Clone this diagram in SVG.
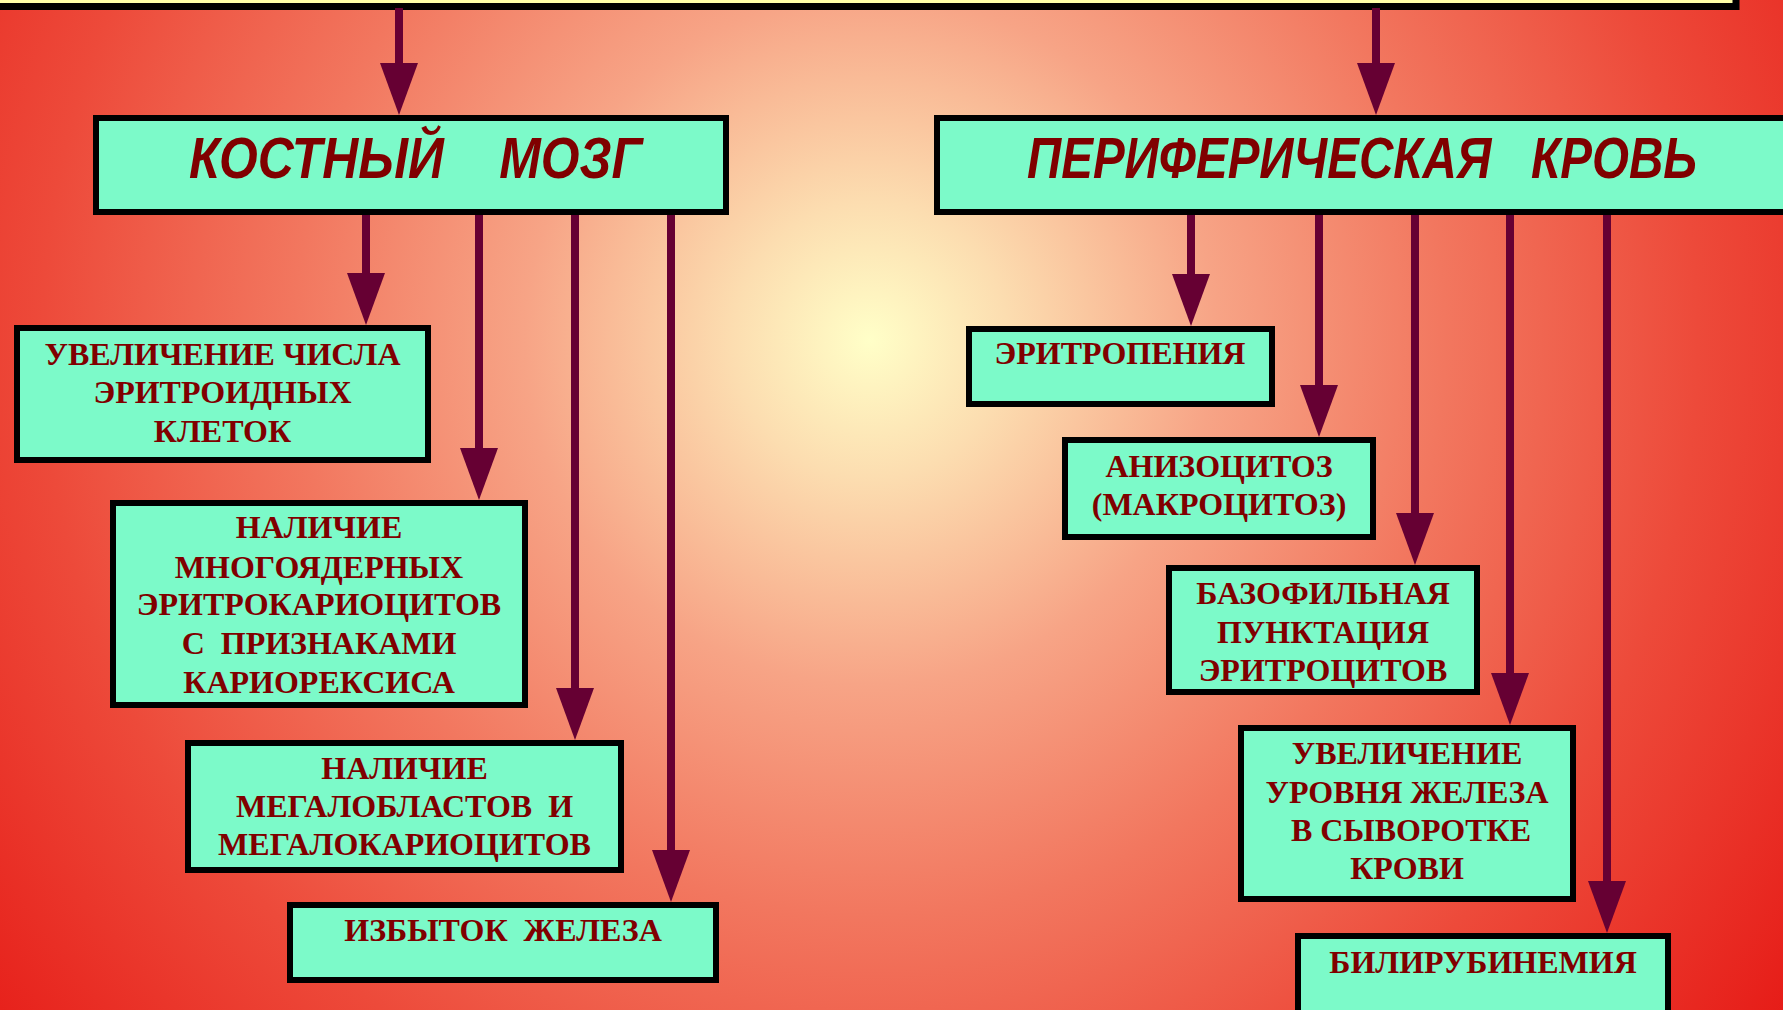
<svg xmlns="http://www.w3.org/2000/svg" width="1783" height="1010" viewBox="0 0 1783 1010">
<defs>
<radialGradient id="bg" gradientUnits="userSpaceOnUse" cx="870" cy="340" r="1150">
<stop offset="0" stop-color="#FFFFC8"/>
<stop offset="0.12" stop-color="#FCDDB0"/>
<stop offset="0.3" stop-color="#F7A486"/>
<stop offset="0.5" stop-color="#F2775F"/>
<stop offset="0.72" stop-color="#ED4A3A"/>
<stop offset="1" stop-color="#E61A16"/>
</radialGradient>
<marker id="ah" markerUnits="userSpaceOnUse" markerWidth="54" markerHeight="38" refX="2" refY="19" orient="auto" viewBox="0 0 54 38">
<path d="M0,0 L52,19 L0,38 z" fill="#660033"/>
</marker>
<style>
.box{fill:#7CFAC9;stroke:#000;stroke-width:6}
.t{font-family:"Liberation Serif","Times New Roman",serif;font-weight:bold;font-size:32px;fill:#800000;text-anchor:middle;white-space:pre}
.h{font-family:"Liberation Sans",Arial,sans-serif;font-weight:bold;font-style:italic;font-size:57px;fill:#800000;white-space:pre}
.c{stroke:#660033;stroke-width:8;fill:none;marker-end:url(#ah)}
</style>
</defs>
<rect x="0" y="0" width="1783" height="1010" fill="url(#bg)"/>
<g id="topbar">
<rect x="-10" y="-50" width="1746" height="56.5" fill="#FFFFA8" stroke="#000" stroke-width="7"/>
</g>
<g id="connectors">
<line class="c" x1="399" y1="8" x2="399" y2="65"/>
<line class="c" x1="1376" y1="8" x2="1376" y2="65"/>
<line class="c" x1="366" y1="215" x2="366" y2="275"/>
<line class="c" x1="479" y1="215" x2="479" y2="450"/>
<line class="c" x1="575" y1="215" x2="575" y2="690"/>
<line class="c" x1="671" y1="215" x2="671" y2="852"/>
<line class="c" x1="1191" y1="215" x2="1191" y2="276"/>
<line class="c" x1="1319" y1="215" x2="1319" y2="387"/>
<line class="c" x1="1415" y1="215" x2="1415" y2="515"/>
<line class="c" x1="1510" y1="215" x2="1510" y2="675"/>
<line class="c" x1="1607" y1="215" x2="1607" y2="883"/>
</g>
<g id="kostny">
<rect class="box" x="96" y="118" width="630" height="94"/>
<text class="h" x="189" y="178" textLength="453" lengthAdjust="spacingAndGlyphs">КОСТНЫЙ    МОЗГ</text>
</g>
<g id="perif">
<rect class="box" x="937" y="118" width="870" height="94"/>
<text class="h" x="1027" y="178" textLength="670" lengthAdjust="spacingAndGlyphs">ПЕРИФЕРИЧЕСКАЯ   КРОВЬ</text>
</g>
<g id="n1">
<rect class="box" x="17" y="328" width="411" height="132"/>
<text class="t" x="222.5" y="365">УВЕЛИЧЕНИЕ ЧИСЛА</text>
<text class="t" x="222.5" y="403">ЭРИТРОИДНЫХ</text>
<text class="t" x="222.5" y="442">КЛЕТОК</text>
</g>
<g id="n2">
<rect class="box" x="113" y="503" width="412" height="202"/>
<text class="t" x="319" y="538">НАЛИЧИЕ</text>
<text class="t" x="319" y="578">МНОГОЯДЕРНЫХ</text>
<text class="t" x="319" y="615">ЭРИТРОКАРИОЦИТОВ</text>
<text class="t" x="319" y="654">С  ПРИЗНАКАМИ</text>
<text class="t" x="319" y="693">КАРИОРЕКСИСА</text>
</g>
<g id="n3">
<rect class="box" x="188" y="743" width="433" height="127"/>
<text class="t" x="404.5" y="779">НАЛИЧИЕ</text>
<text class="t" x="404.5" y="817">МЕГАЛОБЛАСТОВ  И</text>
<text class="t" x="404.5" y="855">МЕГАЛОКАРИОЦИТОВ</text>
</g>
<g id="n4">
<rect class="box" x="290" y="905" width="426" height="75"/>
<text class="t" x="503" y="941">ИЗБЫТОК  ЖЕЛЕЗА</text>
</g>
<g id="n5">
<rect class="box" x="969" y="329" width="303" height="75"/>
<text class="t" x="1120" y="364">ЭРИТРОПЕНИЯ</text>
</g>
<g id="n6">
<rect class="box" x="1065" y="440" width="308" height="97"/>
<text class="t" x="1219" y="477">АНИЗОЦИТОЗ</text>
<text class="t" x="1219" y="515">(МАКРОЦИТОЗ)</text>
</g>
<g id="n7">
<rect class="box" x="1169" y="568" width="308" height="124"/>
<text class="t" x="1323" y="604">БАЗОФИЛЬНАЯ</text>
<text class="t" x="1323" y="643">ПУНКТАЦИЯ</text>
<text class="t" x="1323" y="681">ЭРИТРОЦИТОВ</text>
</g>
<g id="n8">
<rect class="box" x="1241" y="728" width="332" height="171"/>
<text class="t" x="1407" y="764">УВЕЛИЧЕНИЕ</text>
<text class="t" x="1407" y="803">УРОВНЯ ЖЕЛЕЗА</text>
<text class="t" x="1407" y="841"> В СЫВОРОТКЕ</text>
<text class="t" x="1407" y="879">КРОВИ</text>
</g>
<g id="n9">
<rect class="box" x="1298" y="936" width="370" height="100"/>
<text class="t" x="1483" y="973">БИЛИРУБИНЕМИЯ</text>
</g>
</svg>
